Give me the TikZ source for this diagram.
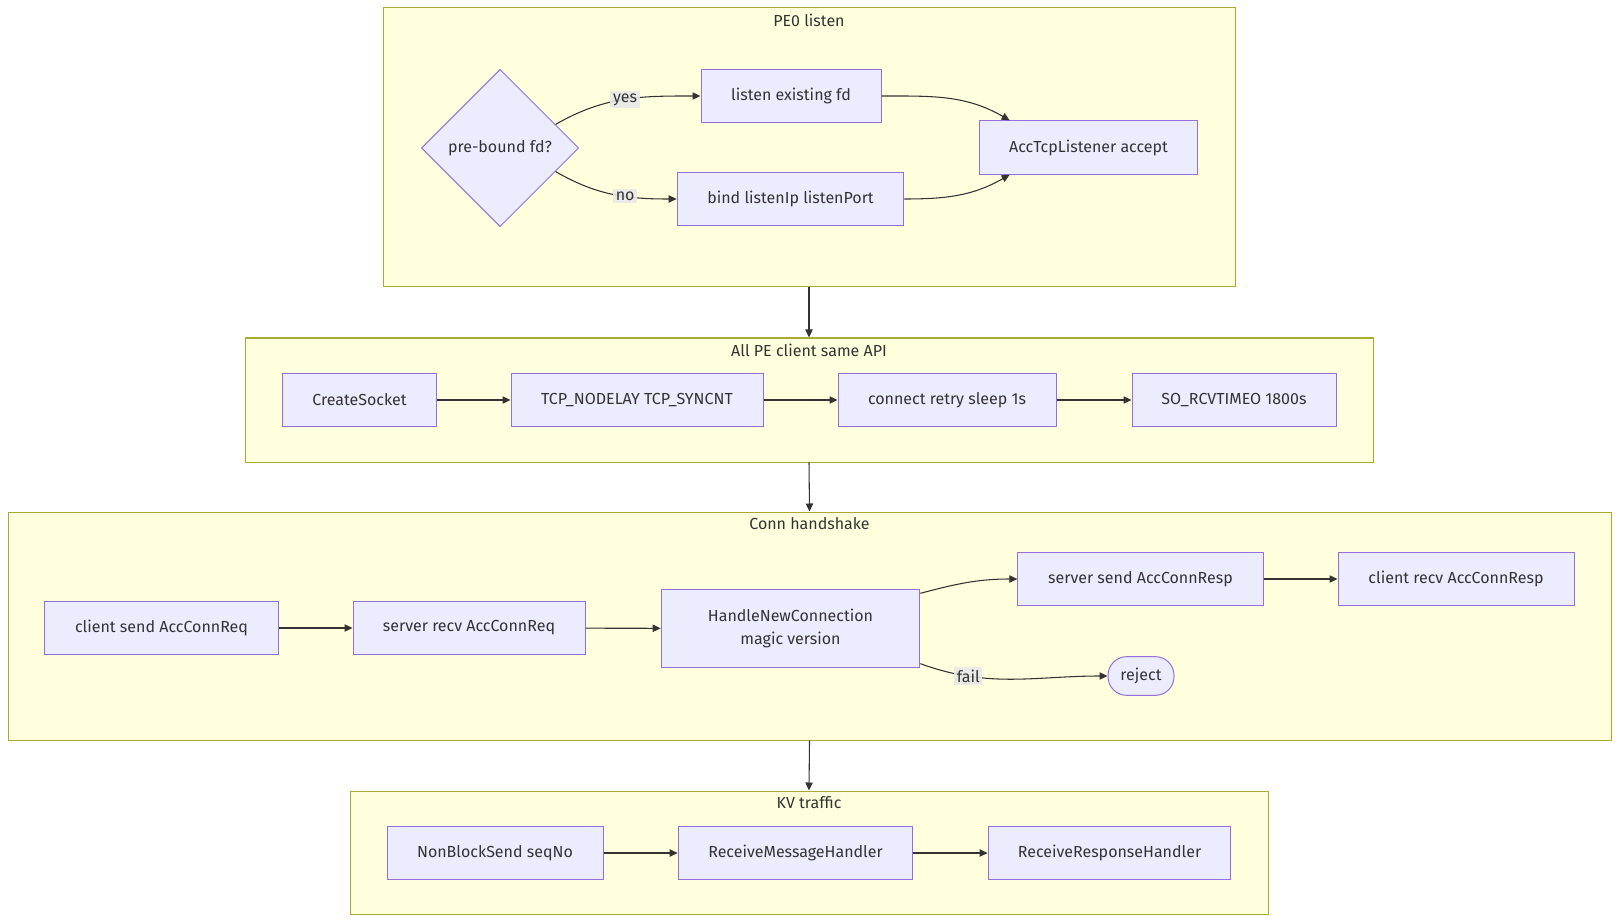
\documentclass[tikz,border=0pt]{standalone}
\usepackage{fontspec}
\setmainfont{Fira Sans}
\usepackage{xcolor}
\usepackage{tikz}
\usetikzlibrary{calc,arrows.meta,positioning,shapes.geometric}
\definecolor{nodefill}{HTML}{ECECFF}
\definecolor{nodeline}{HTML}{9370DB}
\definecolor{clusfill}{HTML}{FFFFDE}
\definecolor{clusline}{HTML}{AAAA33}
\definecolor{edgec}{HTML}{333333}
\definecolor{lblbg}{HTML}{E8E8E8}
\tikzset{
  ar/.style={-{Triangle[length=6pt,width=5.5pt]},edgec,line width=0.8pt},
  box/.style={draw=nodeline,fill=nodefill,line width=0.75pt,minimum height=40pt,inner sep=0pt,align=center,text=edgec,font=\fontsize{12}{17}\selectfont},
  dec/.style={box,shape=diamond,minimum width=118pt,minimum height=118pt},
  clus/.style={draw=clusline,fill=clusfill,line width=0.75pt,inner sep=0pt},
  ctitle/.style={below=1pt,text=edgec,font=\fontsize{12}{14}\selectfont},
  lbl/.style={fill=lblbg,fill opacity=0.9,text opacity=1,text=edgec,inner sep=2pt,font=\fontsize{12}{14}\selectfont}
}
\begin{document}
\begin{tikzpicture}[x=0.75pt,y=-0.75pt]
\useasboundingbox (0,0) rectangle (1619,923);
% clusters
\node[clus,minimum width=639pt,minimum height=209.25pt] (pe) at (809,147.5) {};
\node[ctitle] (pet) at (pe.north) {PE0 listen};
\node[clus,minimum width=846pt,minimum height=93pt] (api) at (809,400) {};
\node[ctitle] (apit) at (api.north) {All PE client same API};
\node[clus,minimum width=1202.25pt,minimum height=171pt] (hs) at (809.5,626) {};
\node[ctitle] (hst) at (hs.north) {Conn handshake};
\node[clus,minimum width=688.5pt,minimum height=92.25pt] (kv) at (809,852.5) {};
\node[ctitle] (kvt) at (kv.north) {KV traffic};
% PE0 listen
\node[dec] (pre) at (500,148) {pre-bound fd?};
\node[box,minimum width=135pt] (lis) at (791,96) {listen existing fd};
\node[box,minimum width=170pt] (bnd) at (790.5,199) {bind listenIp listenPort};
\node[box,minimum width=164pt] (acc) at (1088.5,147.5) {AccTcpListener accept};
\draw[ar] (pre.23) to[out=30,in=180] node[lbl,pos=0.5] {yes} (lis.west);
\draw[ar] (pre.-23) to[out=-30,in=180] node[lbl,pos=0.6] {no} (bnd.west);
\draw[ar] (lis.east) to[out=0,in=150] ($(acc.north west)+(31,0)$);
\draw[ar] (bnd.east) to[out=0,in=-150] ($(acc.south west)+(31,0)$);
% client API
\node[box,minimum width=116pt] (cs) at (359.5,400) {CreateSocket};
\node[box,minimum width=189pt] (tcp) at (637,400) {TCP\_NODELAY TCP\_SYNCNT};
\node[box,minimum width=163.5pt] (con) at (947,400) {connect retry sleep 1s};
\node[box,minimum width=153pt] (rcv) at (1234,400) {SO\_RCVTIMEO 1800s};
\draw[ar] (cs) -- (tcp);
\draw[ar] (tcp) -- (con);
\draw[ar] (con) -- (rcv);
% handshake
\node[box,minimum width=175pt] (csr) at (161.5,628) {client send AccConnReq};
\node[box,minimum width=174pt] (srr) at (469,628) {server recv AccConnReq};
\node[box,minimum width=194pt,minimum height=58pt] (hnc) at (790.5,628.5) {HandleNewConnection\\magic version};
\node[box,minimum width=184pt] (ssr) at (1140.5,579) {server send AccConnResp};
\node[box,minimum width=177pt] (crr) at (1456,579) {client recv AccConnResp};
\node[box,minimum width=49.5pt,minimum height=29pt,rounded corners=14pt] (rej) at (1141,676) {reject};
\draw[ar] (csr) -- (srr);
\draw[ar] (srr) -- (hnc);
\draw[ar] ($(hnc.north east)+(0,4)$) to[out=15,in=180] (ssr.west);
\draw[ar] ($(hnc.south east)+(0,-4)$) to[out=-20,in=180] node[lbl,pos=0.25] {fail} (rej.west);
\draw[ar] (ssr) -- (crr);
% KV traffic
\node[box,minimum width=162pt] (nbs) at (495,853) {NonBlockSend seqNo};
\node[box,minimum width=176pt] (rmh) at (795.5,853) {ReceiveMessageHandler};
\node[box,minimum width=182pt] (rrh) at (1109.5,853) {ReceiveResponseHandler};
\draw[ar] (nbs) -- (rmh);
\draw[ar] (rmh) -- (rrh);
% between clusters
\draw[ar] (pe.south) -- (api.north);
\draw[ar] (api.south) -- (hs.north);
\draw[ar] (hs.south) -- (kv.north);
\end{tikzpicture}
\end{document}
